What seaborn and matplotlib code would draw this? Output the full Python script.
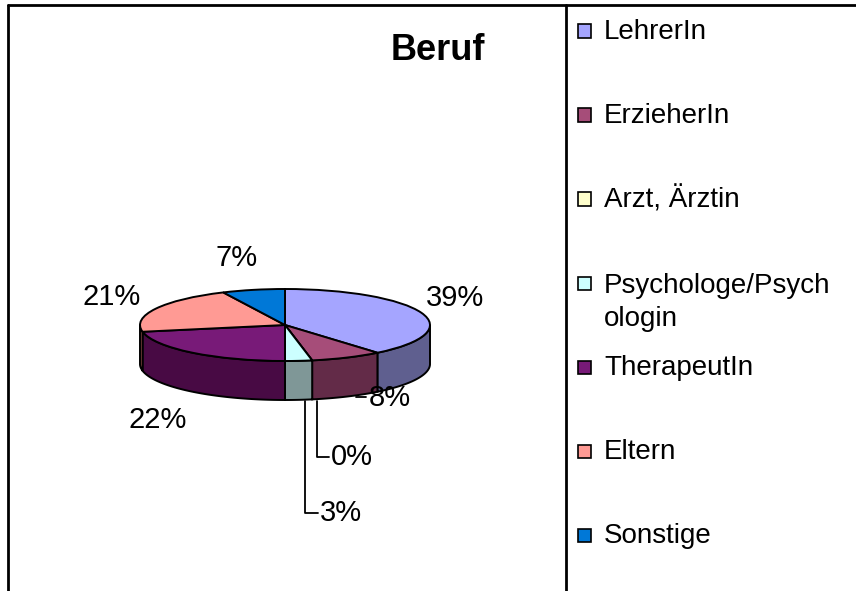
import matplotlib
matplotlib.use("Agg")
import matplotlib.pyplot as plt
import seaborn as sns
import numpy as np
from matplotlib.lines import Line2D
from matplotlib.patches import Rectangle

# Daten
categories = ["LehrerIn", "ErzieherIn", "Arzt, Ärztin", "Psychologe/Psych\nologin",
              "TherapeutIn", "Eltern", "Sonstige"]
percent = [39, 8, 0, 3, 22, 21, 7]
pct_labels = ["39%", "8%", "0%", "3%", "22%", "21%", "7%"]

# Farben (Oberseite / Seitenwand)
top_colors = ["#A5A5FF", "#A64D79", "#FFFFCC", "#CCFFFF", "#781A78", "#FF9A94", "#0078D7"]
side_colors = ["#5F5F8F", "#632B48", "#9A9A7A", "#7F9797", "#480A44", "#99504C", "#004A80"]

sns.set_style("white")
plt.rcParams["font.family"] = ["Liberation Sans", "DejaVu Sans"]
plt.rcParams["text.color"] = "black"

W, H = 856, 591
fig = plt.figure(figsize=(W / 100, H / 100), dpi=100)
ax = fig.add_axes([0, 0, 1, 1])

# Geometrie des flachen Kuchens (Pixel)
CX, CY, RX, RY = 285, 325, 145, 36
DEPTH = 39 / RY


def px(x, y):
    return (x - CX) / RX, (CY - y) / RY


wedges, _ = ax.pie(percent, colors=top_colors, startangle=90, counterclock=False,
                   wedgeprops=dict(edgecolor="black", linewidth=1.4))

# Seitenwände für die vordere Hälfte
for w, c in zip(wedges, side_colors):
    for shift in (-360, 0, 360):
        lo = max(w.theta1 + shift, 180)
        hi = min(w.theta2 + shift, 360)
        if hi - lo <= 0:
            continue
        t = np.radians(np.linspace(lo, hi, 80))
        x, y = np.cos(t), np.sin(t)
        ax.fill(np.r_[x, x[::-1]], np.r_[y, y[::-1] - DEPTH], facecolor=c,
                edgecolor="black", linewidth=1.4, zorder=0.5)

ax.set_aspect("auto")
ax.set_xlim(-CX / RX, (W - CX) / RX)
ax.set_ylim((CY - H) / RY, CY / RY)
ax.axis("off")

# Prozentbeschriftungen
label_pos = [(455, 298), (390, 398), (352, 457), (341, 513), (158, 420), (112, 297), (237, 258)]
for lab, (lx, ly) in zip(pct_labels, label_pos):
    ax.text(*px(lx, ly), lab, fontsize=21, ha="center", va="center")

leaders = [
    [(356, 397), (366, 397)],
    [(317, 401), (317, 457), (329, 457)],
    [(305, 401), (305, 513), (318, 513)],
]
for pts in leaders:
    xs, ys = zip(*[px(a, b) for a, b in pts])
    ax.plot(xs, ys, color="black", linewidth=1.3)

# Titel
fig.text(438 / W, 1 - 50 / H, "Beruf", fontsize=26, fontweight="bold",
         ha="center", va="center")

# Rahmen
def fig_line(x0, y0, x1, y1, lw=2.0):
    fig.add_artist(Line2D([x0 / W, x1 / W], [1 - y0 / H, 1 - y1 / H],
                          transform=fig.transFigure, color="black", linewidth=lw))


fig_line(8, 5, W, 5)
fig_line(8, 5, 8, H)
fig_line(566, 5, 566, H)

# Legende
for i, (name, col) in enumerate(zip(categories, top_colors)):
    yc = 31 + 84 * i
    fig.add_artist(Rectangle((578 / W, 1 - (yc + 6.5) / H), 13 / W, 13 / H,
                             transform=fig.transFigure, facecolor=col,
                             edgecolor="black", linewidth=1.2))
    nl = name.count("\n")
    fig.text(604 / W, 1 - (yc + 1 + nl * 37 / 2) / H, name, fontsize=20,
             ha="left", va="center", linespacing=1.33)

fig.savefig("out.png", dpi=100)
